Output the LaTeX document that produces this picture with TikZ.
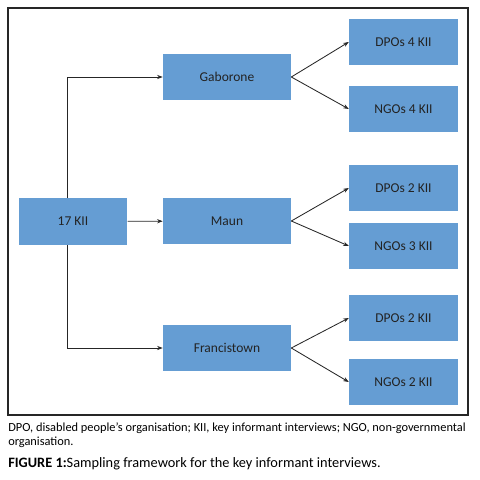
\documentclass[tikz,border=0pt]{standalone}
\usepackage{fontspec}
\setmainfont{Carlito}
\usetikzlibrary{positioning,arrows.meta}
\definecolor{boxblue}{RGB}{101,157,211}
\definecolor{textgrey}{RGB}{35,35,35}

\begin{document}
\begin{tikzpicture}[x=0.025cm, y=-0.025cm,
  box/.style={fill=boxblue, text=textgrey, minimum width=3.2cm, minimum height=1.15cm, inner sep=0pt, font=\fontsize{9.6}{11}\selectfont},
  smallbox/.style={box, minimum width=2.72cm},
  link/.style={-{Stealth[length=4pt,width=3pt]}, semithick, black!85}]

\useasboundingbox (0,0) rectangle (480,480);

% Frame
\draw[thick, black!85] (8,8) rectangle (468,415);

% Root
\node[smallbox] (root) at (73,221.5) {17 KII};

% Cities
\node[box] (gab) at (227,77) {Gaborone};
\node[box] (maun) at (227,221) {Maun};
\node[box] (fran) at (227,348) {Francistown};

% Leaves
\node[smallbox] (gabd) at (403.5,42) {DPOs 4 KII};
\node[smallbox] (gabn) at (403.5,109) {NGOs 4 KII};
\node[smallbox] (maund) at (403.5,188) {DPOs 2 KII};
\node[smallbox] (maunn) at (403.5,246) {NGOs 3 KII};
\node[smallbox] (frand) at (403.5,318) {DPOs 2 KII};
\node[smallbox] (frann) at (403.5,382) {NGOs 2 KII};

% Root to cities
\draw[link] (root.north -| 67,0) |- (gab.west);
\draw[link] (root) -- (maun);
\draw[link] (root.south -| 67,0) |- (fran.west);

% Cities to leaves
\foreach \c in {gab, maun, fran} {
  \draw[link] (\c.east) -- (\c d.west);
  \draw[link] (\c.east) -- (\c n.west);
}

% Caption
\node[anchor=north west, inner sep=0pt, align=left, font=\fontsize{8.8}{10}\selectfont] (note) at (8,422)
  {DPO, disabled people’s organisation; KII, key informant interviews; NGO, non-governmental\\organisation.};
\node[anchor=north west, inner sep=0pt, font=\fontsize{10.2}{11}\selectfont] (cap) at (8,457)
  {\textbf{FIGURE 1:}Sampling framework for the key informant interviews.};

\end{tikzpicture}
\end{document}
